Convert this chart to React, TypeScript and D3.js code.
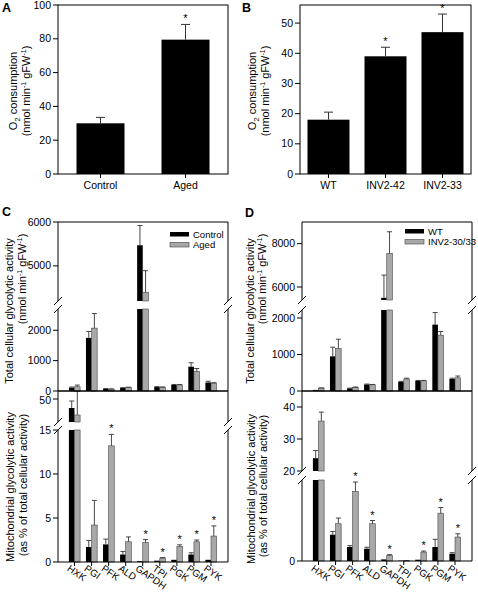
import React from "react";
import * as d3 from "d3";

const FONT = "'Liberation Sans', Arial, Helvetica, sans-serif";
const GREY = "#a8a8a8";
const ERR = "#333";

// ---------- Panel A ----------
const aCategories = ["Control", "Aged"];
const aValues = [30, 79.5];
const aErrors = [3.5, 9];
const aSignificant = [false, true];
const aTicks = [0, 20, 40, 60, 80, 100];
const aMax = 100;

// ---------- Panel B ----------
const bCategories = ["WT", "INV2-42", "INV2-33"];
const bValues = [18, 39, 47];
const bErrors = [2.5, 3, 6];
const bSignificant = [false, true, true];
const bTicks = [0, 10, 20, 30, 40, 50];
const bMax = 56;

// ---------- Enzymes ----------
const enzymes = ["HXK", "PGI", "PFK", "ALD", "GAPDH", "TPI", "PGK", "PGM", "PYK"];

// ---------- Panel C (Control vs Aged) ----------
const cTotalControl = [110, 1750, 70, 100, 5470, 130, 200, 800, 280];
const cTotalControlErr = [20, 210, 10, 10, 450, 15, 15, 130, 40];
const cTotalAged = [140, 2070, 60, 110, 4400, 120, 200, 650, 260];
const cTotalAgedErr = [55, 480, 10, 15, 490, 15, 15, 90, 12];
const cTotalLowerDomain: [number, number] = [0, 2700];
const cTotalUpperDomain: [number, number] = [4200, 6000];
const cTotalLowerTicks = [0, 1000, 2000];
const cTotalUpperTicks = [5000, 6000];

const cMitoControl = [41, 1.7, 2.0, 0.85, 0.1, 0.15, 0.25, 0.85, 0.25];
const cMitoControlErr = [7, 0.75, 0.6, 0.35, 0, 0, 0, 0.2, 0];
const cMitoAged = [34, 4.2, 13.2, 2.3, 2.2, 0.45, 1.75, 2.3, 2.95];
const cMitoAgedErr = [23.5, 2.8, 1.3, 0.55, 0.35, 0.05, 0.2, 0.2, 1.15];
const cMitoSignificant = [false, false, true, false, true, true, true, true, true];
const cMitoLowerDomain: [number, number] = [0, 15];
const cMitoUpperDomain: [number, number] = [27, 58];
const cMitoLowerTicks = [0, 5, 10, 15];
const cMitoUpperTicks = [50];

// ---------- Panel D (WT vs INV2-30/33) ----------
const dTotalWT = [30, 950, 70, 180, 5500, 250, 280, 1820, 330];
const dTotalWTErr = [0, 250, 10, 10, 1050, 15, 10, 330, 20];
const dTotalINV = [80, 1170, 100, 170, 7550, 330, 280, 1530, 360];
const dTotalINVErr = [5, 250, 10, 10, 1000, 20, 10, 100, 50];
const dTotalLowerDomain: [number, number] = [0, 2220];
const dTotalUpperDomain: [number, number] = [5400, 9000];
const dTotalLowerTicks = [0, 1000, 2000];
const dTotalUpperTicks = [6000, 8000];

const dMitoWT = [24, 3.25, 1.73, 1.52, 0.2, 0.04, 0.16, 1.73, 0.9];
const dMitoWTErr = [2.4, 0.4, 0.17, 0.18, 0, 0, 0, 0.95, 0.13];
const dMitoINV = [35.6, 4.6, 8.6, 4.6, 0.7, 0.08, 1.1, 5.9, 2.96];
const dMitoINVErr = [2.8, 0.7, 1.15, 0.4, 0.08, 0, 0.13, 0.7, 0.4];
const dMitoSignificant = [false, false, true, true, true, false, true, true, true];
const dMitoLowerDomain: [number, number] = [0, 10];
const dMitoUpperDomain: [number, number] = [20, 45];
const dMitoLowerTicks = [0];
const dMitoUpperTicks = [20, 30, 40];

type Seg = { domain: [number, number]; y: [number, number]; ticks: number[]; labelShift?: number };

function SimplePanel(p: {
  cats: string[]; values: number[]; errors: number[]; sig: boolean[]; ticks: number[]; yMax: number;
  left: number; right: number; top: number; bottom: number; barW: number;
}) {
  const x = d3.scaleBand<string>().domain(p.cats).range([p.left, p.right]);
  const y = d3.scaleLinear().domain([0, p.yMax]).range([p.bottom, p.top]);
  return (
    <g>
      {p.values.map((v, i) => {
        const cx = (x(p.cats[i]) as number) + x.bandwidth() / 2;
        const et = v + p.errors[i];
        return (
          <g key={i}>
            <rect x={cx - p.barW / 2} y={y(v)} width={p.barW} height={y(0) - y(v)} fill="#000" />
            <line x1={cx} x2={cx} y1={y(v)} y2={y(et)} stroke={ERR} strokeWidth={1} />
            <line x1={cx - 4.5} x2={cx + 4.5} y1={y(et)} y2={y(et)} stroke={ERR} strokeWidth={1} />
            {p.sig[i] && (
              <text x={cx} y={y(et) - 2} textAnchor="middle" fontSize={11} fontFamily={FONT}>*</text>
            )}
            <line x1={cx} x2={cx} y1={p.bottom} y2={p.bottom + 4} stroke="#000" />
            <text x={cx} y={p.bottom + 15} textAnchor="middle" fontSize={10.5} fontFamily={FONT}>{p.cats[i]}</text>
          </g>
        );
      })}
      <rect x={p.left} y={p.top} width={p.right - p.left} height={p.bottom - p.top} fill="none" stroke="#000" strokeWidth={1} />
      {p.ticks.map((t) => (
        <g key={t}>
          <line x1={p.left - 5} x2={p.left} y1={y(t)} y2={y(t)} stroke="#000" />
          <text x={p.left - 7} y={y(t) + 3.5} textAnchor="end" fontSize={10.5} fontFamily={FONT}>{t}</text>
        </g>
      ))}
    </g>
  );
}

function BrokenPanel(p: {
  cats: string[]; left: number; right: number;
  s1: number[]; s1e: number[]; s2: number[]; s2e: number[]; sig?: boolean[];
  segs: Seg[]; xLabels?: boolean;
}) {
  const { left, right, cats, segs } = p;
  const x = d3.scalePoint<string>().domain(cats).range([left + 16.5, right - 17]);
  const sc = segs.map((s) => d3.scaleLinear().domain(s.domain).range(s.y));
  const bw = 5.6;
  const els: React.ReactNode[] = [];

  const drawSeries = (vals: number[], errs: number[], off: number, fill: string, key: string, stars?: boolean[]) => {
    vals.forEach((v, i) => {
      const cx = (x(cats[i]) as number) + off;
      const bx = cx - bw / 2;
      const et = v + errs[i];
      segs.forEach((s, k) => {
        const [d0, d1] = s.domain;
        const lo = Math.max(0, d0), hi = Math.min(v, d1);
        if (hi > lo) {
          els.push(
            <rect key={`${key}b${i}-${k}`} x={bx} y={sc[k](hi)} width={bw} height={sc[k](lo) - sc[k](hi)}
              fill={fill} stroke={fill === "#000" ? "none" : "#444"} strokeWidth={0.6} />
          );
        }
        if (errs[i] > 0) {
          const elo = Math.max(v, d0), ehi = Math.min(et, d1);
          if (ehi > elo) {
            els.push(<line key={`${key}e${i}-${k}`} x1={cx} x2={cx} y1={sc[k](elo)} y2={sc[k](ehi)} stroke={ERR} strokeWidth={0.9} />);
          }
          if (et >= d0 && et <= d1) {
            els.push(<line key={`${key}c${i}-${k}`} x1={cx - 2.5} x2={cx + 2.5} y1={sc[k](et)} y2={sc[k](et)} stroke={ERR} strokeWidth={0.9} />);
          }
        }
        if (stars && stars[i] && et >= d0 && et <= d1) {
          els.push(
            <text key={`${key}s${i}-${k}`} x={cx} y={sc[k](et) - 2} textAnchor="middle" fontSize={11} fontFamily={FONT} fill="#000">*</text>
          );
        }
      });
    });
  };
  drawSeries(p.s1, p.s1e, -bw / 2, "#000", "a");
  drawSeries(p.s2, p.s2e, bw / 2, GREY, "b", p.sig);

  const lower = segs[0], upper = segs[segs.length - 1];
  const slash = (xx: number, yy: number, k: string) => (
    <line key={k} x1={xx - 4} y1={yy + 4} x2={xx + 4} y2={yy - 4} stroke="#000" strokeWidth={1} />
  );

  return (
    <g>
      {els}
      {segs.map((s, k) => (
        <g key={`ax${k}`}>
          <line x1={left} x2={left} y1={s.y[1]} y2={s.y[0]} stroke="#000" />
          <line x1={right} x2={right} y1={s.y[1]} y2={s.y[0]} stroke="#000" />
          {s.ticks.map((t) => (
            <g key={t}>
              <line x1={left - 5} x2={left} y1={sc[k](t)} y2={sc[k](t)} stroke="#000" />
              <text x={left - 7} y={sc[k](t) + 3.5 + (s.labelShift || 0)} textAnchor="end" fontSize={10.5} fontFamily={FONT}>{t}</text>
            </g>
          ))}
        </g>
      ))}
      {slash(left, lower.y[1], "s1")}
      {slash(left, upper.y[0], "s2")}
      {slash(right, lower.y[1], "s3")}
      {slash(right, upper.y[0], "s4")}
      <line x1={left} x2={right} y1={upper.y[1]} y2={upper.y[1]} stroke="#000" />
      <line x1={left} x2={right} y1={lower.y[0]} y2={lower.y[0]} stroke="#000" />
      {p.xLabels &&
        cats.map((c) => {
          const cx = x(c) as number;
          const tx = cx - 8, ty = 570;
          return (
            <g key={c}>
              <line x1={cx} x2={cx} y1={lower.y[0]} y2={lower.y[0] + 4} stroke="#000" />
              <text x={tx} y={ty} transform={`rotate(35, ${tx}, ${ty})`} fontSize={9.8} fontFamily={FONT}>{c}</text>
            </g>
          );
        })}
    </g>
  );
}

function YTitle({ cx, cy, children }: { cx: number; cy: number; children: React.ReactNode }) {
  return (
    <text transform={`rotate(-90)`} x={-cy} y={cx} textAnchor="middle" fontSize={11} fontFamily={FONT}>
      {children}
    </text>
  );
}

function UnitsLine() {
  return (
    <>
      (nmol min<tspan dy={-4} fontSize={7}>-1</tspan>
      <tspan dy={4}> gFW</tspan>
      <tspan dy={-4} fontSize={7}>-1</tspan>
      <tspan dy={4}>)</tspan>
    </>
  );
}

function O2Line() {
  return (
    <>
      O<tspan dy={3} fontSize={8}>2</tspan>
      <tspan dy={-3}> consumption</tspan>
    </>
  );
}

function Legend({ x, y, labels }: { x: number; y: number; labels: string[] }) {
  return (
    <g>
      {labels.map((l, i) => (
        <g key={l}>
          <rect x={x} y={y + i * 10.5} width={19} height={4.5} fill={i === 0 ? "#000" : GREY} stroke={i === 0 ? "none" : "#444"} strokeWidth={0.6} />
          <text x={x + 23} y={y + i * 10.5 + 5.5} fontSize={9.5} fontFamily={FONT}>{l}</text>
        </g>
      ))}
    </g>
  );
}

export default function App() {
  const cTotalSegs: Seg[] = [
    { domain: cTotalLowerDomain, y: [391, 309], ticks: cTotalLowerTicks },
    { domain: cTotalUpperDomain, y: [301, 222], ticks: cTotalUpperTicks },
  ];
  const cMitoSegs: Seg[] = [
    { domain: cMitoLowerDomain, y: [562, 430], ticks: cMitoLowerTicks },
    { domain: cMitoUpperDomain, y: [422, 391], ticks: cMitoUpperTicks, labelShift: 1 },
  ];
  const dTotalSegs: Seg[] = [
    { domain: dTotalLowerDomain, y: [391, 310], ticks: dTotalLowerTicks },
    { domain: dTotalUpperDomain, y: [300, 222], ticks: dTotalUpperTicks },
  ];
  const dMitoSegs: Seg[] = [
    { domain: dMitoLowerDomain, y: [561, 480], ticks: dMitoLowerTicks },
    { domain: dMitoUpperDomain, y: [471, 391], ticks: dMitoUpperTicks },
  ];

  return (
    <svg width={478} height={594} viewBox="0 0 478 594"
      style={{ position: "absolute", left: 0, top: 0, background: "#fff" }}>
      <rect x={0} y={0} width={478} height={594} fill="#fff" />
      {/* Panel labels */}
      <text x={2} y={12} fontSize={12.5} fontWeight="bold" fontFamily={FONT}>A</text>
      <text x={242} y={12} fontSize={12.5} fontWeight="bold" fontFamily={FONT}>B</text>
      <text x={2} y={216} fontSize={12.5} fontWeight="bold" fontFamily={FONT}>C</text>
      <text x={245} y={217} fontSize={12.5} fontWeight="bold" fontFamily={FONT}>D</text>

      {/* A */}
      <SimplePanel cats={aCategories} values={aValues} errors={aErrors} sig={aSignificant} ticks={aTicks}
        yMax={aMax} left={58} right={228} top={5} bottom={174} barW={48} />
      <YTitle cx={17} cy={91}><O2Line /></YTitle>
      <YTitle cx={30} cy={91}><UnitsLine /></YTitle>

      {/* B */}
      <SimplePanel cats={bCategories} values={bValues} errors={bErrors} sig={bSignificant} ticks={bTicks}
        yMax={bMax} left={300} right={471} top={5} bottom={174} barW={42} />
      <YTitle cx={256} cy={91}><O2Line /></YTitle>
      <YTitle cx={269} cy={91}><UnitsLine /></YTitle>

      {/* C */}
      <BrokenPanel cats={enzymes} left={58} right={228} s1={cTotalControl} s1e={cTotalControlErr}
        s2={cTotalAged} s2e={cTotalAgedErr} segs={cTotalSegs} />
      <BrokenPanel cats={enzymes} left={58} right={228} s1={cMitoControl} s1e={cMitoControlErr}
        s2={cMitoAged} s2e={cMitoAgedErr} sig={cMitoSignificant} segs={cMitoSegs} xLabels />
      <Legend x={170} y={232} labels={["Control", "Aged"]} />
      <YTitle cx={13} cy={311}>Total cellular glycolytic activity</YTitle>
      <YTitle cx={26} cy={279}><UnitsLine /></YTitle>
      <YTitle cx={14} cy={487}>Mitochondrial glycolytic activity</YTitle>
      <YTitle cx={27} cy={485}>(as % of total cellular activity)</YTitle>

      {/* D */}
      <BrokenPanel cats={enzymes} left={302} right={472} s1={dTotalWT} s1e={dTotalWTErr}
        s2={dTotalINV} s2e={dTotalINVErr} segs={dTotalSegs} />
      <BrokenPanel cats={enzymes} left={302} right={472} s1={dMitoWT} s1e={dMitoWTErr}
        s2={dMitoINV} s2e={dMitoINVErr} sig={dMitoSignificant} segs={dMitoSegs} xLabels />
      <Legend x={405} y={229} labels={["WT", "INV2-30/33"]} />
      <YTitle cx={254} cy={311}>Total cellular glycolytic activity</YTitle>
      <YTitle cx={266} cy={279}><UnitsLine /></YTitle>
      <YTitle cx={255} cy={489}>Mitochondrial glycolytic activity</YTitle>
      <YTitle cx={267} cy={486}>(as % of total cellular activity)</YTitle>
    </svg>
  );
}
